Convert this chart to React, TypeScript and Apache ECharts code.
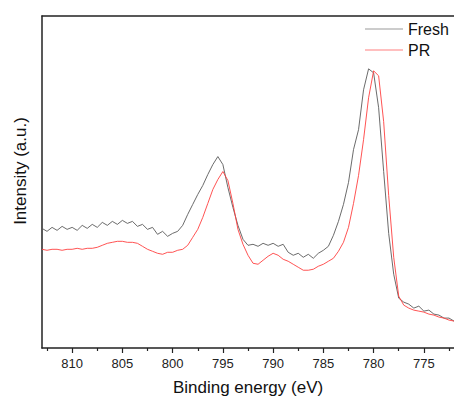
import React, { useEffect, useRef } from "react";
import * as echarts from "echarts";

const energy = [
  813, 812.5, 812, 811.5, 811, 810.5, 810, 809.5, 809, 808.5,
  808, 807.5, 807, 806.5, 806, 805.5, 805, 804.5, 804, 803.5,
  803, 802.5, 802, 801.5, 801, 800.5, 800, 799.5, 799, 798.5,
  798, 797.5, 797, 796.5, 796, 795.5, 795, 794.5, 794, 793.5,
  793, 792.5, 792, 791.5, 791, 790.5, 790, 789.5, 789, 788.5,
  788, 787.5, 787, 786.5, 786, 785.5, 785, 784.5, 784, 783.5,
  783, 782.5, 782, 781.5, 781, 780.5, 780, 779.5, 779, 778.5,
  778, 777.5, 777, 776.5, 776, 775.5, 775, 774.5, 774, 773.5,
  773, 772.5, 772,
];

const fresh = [
  120, 117, 121, 118, 122, 119, 121, 118, 123, 120,
  124, 121, 126, 123, 127, 124, 128, 125, 127, 122,
  124, 119, 121, 114, 117, 112, 115, 117, 123, 134,
  144, 154, 163, 174, 184, 192, 184, 161, 141, 123,
  109, 103, 104, 102, 105, 103, 105, 102, 104, 96,
  93, 95, 91, 94, 90, 95, 98, 102, 113, 127,
  144, 166, 199, 219, 259, 280, 276, 241, 177, 115,
  74, 50, 46, 44, 40, 42, 37, 38, 34, 33,
  30, 30, 27,
];

const pr = [
  99, 98, 99, 99, 98, 99, 99, 100, 99, 100,
  100, 101, 103, 105, 106, 107, 107, 106, 106, 105,
  102, 99, 97, 95, 94, 96, 96, 98, 99, 103,
  111, 119, 131, 145, 159, 169, 177, 168, 145, 119,
  104, 93, 85, 84, 88, 92, 95, 93, 89, 87,
  84, 81, 78, 78, 79, 82, 84, 87, 90, 97,
  106, 121, 145, 173, 209, 251, 278, 273, 227, 153,
  91, 52, 43, 40, 38, 37, 36, 34, 33, 31,
  30, 28, 27,
];

const majorTicks = [775, 780, 785, 790, 795, 800, 805, 810];
const minorTicks = [772.5, 777.5, 782.5, 787.5, 792.5, 797.5, 802.5, 807.5, 812.5];
const seriesNames = ["Fresh", "PR"];

const FONT = 'Arial, "Liberation Sans", sans-serif';
const FRESH_COLOR = "#5a5a5a";
const PR_COLOR = "#ff4040";

export default function App() {
  const ref = useRef<HTMLDivElement>(null);
  useEffect(() => {
    if (!ref.current) return;
    const chart = echarts.init(ref.current, null, { renderer: "svg" });
    const axisColor = "#222";
    chart.setOption({
      animation: false,
      backgroundColor: "#fff",
      grid: { left: 42, top: 16, right: 0, bottom: 52 },
      legend: {
        data: seriesNames.map((n) => ({ name: n, icon: "rect" })),
        orient: "vertical",
        left: 365,
        top: 21,
        itemWidth: 38,
        itemHeight: 1,
        itemGap: 5,
        padding: 0,
        textStyle: { fontSize: 16, color: "#111", fontFamily: FONT, padding: [0, 0, 0, 0] },
      },
      xAxis: [
        {
          type: "value",
          position: "bottom",
          min: 772,
          max: 813,
          inverse: true,
          axisLine: { show: true, onZero: false, lineStyle: { color: axisColor, width: 1.5 } },
          axisTick: { show: true, inside: false, length: 5, customValues: majorTicks, lineStyle: { color: axisColor, width: 1.2 } },
          axisLabel: { customValues: majorTicks, fontSize: 13, color: "#222", margin: 9, fontFamily: FONT },
          splitLine: { show: false },
          name: "Binding energy (eV)",
          nameLocation: "middle",
          nameGap: 31,
          nameTextStyle: { fontSize: 17, color: "#111", fontFamily: FONT },
        },
        {
          type: "value",
          position: "top",
          min: 772,
          max: 813,
          inverse: true,
          axisLine: { show: true, onZero: false, lineStyle: { color: axisColor, width: 1.5 } },
          axisTick: { show: false },
          axisLabel: { show: false },
          splitLine: { show: false },
        },
        {
          type: "value",
          position: "bottom",
          min: 772,
          max: 813,
          inverse: true,
          axisLine: { show: false, onZero: false },
          axisTick: { show: true, inside: false, length: 3, customValues: minorTicks, lineStyle: { color: axisColor, width: 1.2 } },
          axisLabel: { show: false },
          splitLine: { show: false },
        },
      ],
      yAxis: {
        type: "value",
        min: 0,
        max: 333,
        axisLine: { show: true, onZero: false, lineStyle: { color: axisColor, width: 1.5 } },
        axisTick: { show: false },
        axisLabel: { show: false },
        splitLine: { show: false },
      },
      graphic: [
        {
          type: "text",
          x: 20,
          y: 171,
          rotation: Math.PI / 2,
          style: {
            text: "Intensity (a.u.)",
            fontSize: 17,
            fontFamily: FONT,
            fill: "#111",
            textAlign: "center",
            textVerticalAlign: "middle",
          },
        },
      ],
      series: [
        {
          name: "Fresh",
          type: "line",
          xAxisIndex: 0,
          symbol: "none",
          data: energy.map((e, i) => [e, fresh[i]]),
          lineStyle: { color: FRESH_COLOR, width: 0.9 },
          itemStyle: { color: "#9a9a9a" },
        },
        {
          name: "PR",
          type: "line",
          xAxisIndex: 0,
          symbol: "none",
          data: energy.map((e, i) => [e, pr[i]]),
          lineStyle: { color: PR_COLOR, width: 0.9 },
          itemStyle: { color: "#ff8080" },
        },
      ],
    });
    return () => chart.dispose();
  }, []);
  return (
    <div
      ref={ref}
      style={{ position: "fixed", left: 0, top: 0, width: 454, height: 401 }}
    />
  );
}
